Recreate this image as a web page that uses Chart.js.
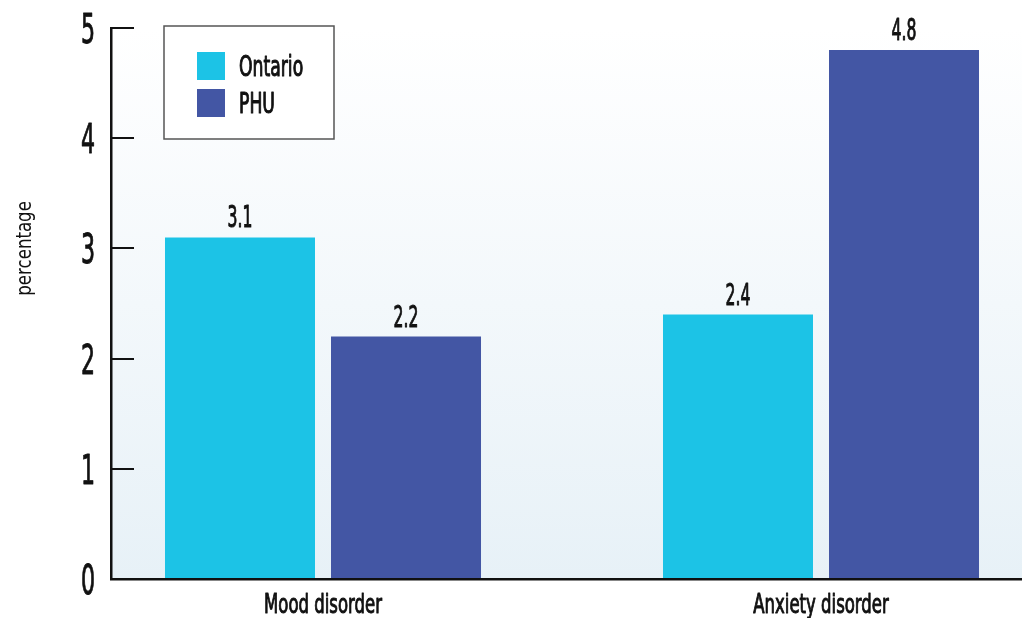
<!DOCTYPE html>
<html>
<head>
<meta charset="utf-8">
<script src="https://cdn.jsdelivr.net/npm/chart.js@4"></script>
<style>
  html, body { margin: 0; padding: 0; background: #ffffff; overflow: hidden; }
  #wrap { width: 1022px; height: 618px; position: relative; }
</style>
</head>
<body>
<div id="wrap"><canvas id="c" width="1022" height="618"></canvas></div>
<script>
// ---- data ----
const categories = ['Mood disorder', 'Anxiety disorder'];
const seriesNames = ['Ontario', 'PHU'];
const ontarioValues = [3.1, 2.4];
const phuValues = [2.2, 4.8];
const yTicks = [0, 1, 2, 3, 4, 5];
const yTitle = 'percentage';

const FONT = "'DejaVu Sans Condensed', 'DejaVu Sans', sans-serif";
const colors = ['#1cc3e6', '#4356a4'];
const INK = '#111111';

// draw horizontally condensed text, slightly emboldened
function condText(ctx, text, x, y, size, sx, align, baseline, stroke) {
  ctx.save();
  ctx.font = size + 'px ' + FONT;
  ctx.fillStyle = INK;
  ctx.strokeStyle = INK;
  ctx.textAlign = align;
  ctx.textBaseline = baseline;
  ctx.translate(x, y);
  ctx.scale(sx, 1);
  ctx.fillText(text, 0, 0);
  if (stroke) { ctx.lineWidth = stroke; ctx.lineJoin = 'round'; ctx.strokeText(text, 0, 0); }
  ctx.restore();
}

const bgPlugin = {
  id: 'bgGradient',
  beforeDraw(chart) {
    const { ctx, chartArea: a } = chart;
    const g = ctx.createLinearGradient(0, a.top, 0, a.bottom);
    g.addColorStop(0, '#ffffff');
    g.addColorStop(1, '#e7f1f7');
    ctx.save();
    ctx.fillStyle = g;
    ctx.fillRect(a.left, a.top, a.right - a.left, a.bottom - a.top);
    ctx.restore();
  }
};

const axisLabelPlugin = {
  id: 'axisLabels',
  afterDraw(chart) {
    const ctx = chart.ctx;
    const xs = chart.scales.x, ys = chart.scales.y;
    ys.ticks.forEach(t => {
      condText(ctx, String(t.value), ys.right - 16, ys.getPixelForValue(t.value) + 15, 41, 0.6, 'right', 'alphabetic', 0.9);
    });
    xs.ticks.forEach(t => {
      condText(ctx, categories[t.value], xs.getPixelForValue(t.value), xs.top + 34, 27, 0.68, 'center', 'alphabetic', 1.0);
    });
    const a = chart.chartArea;
    ctx.save();
    ctx.translate(26, a.top + (a.bottom - a.top) * 0.4);
    ctx.rotate(-Math.PI / 2);
    condText(ctx, yTitle, 0, 0, 21, 0.88, 'center', 'middle', 0);
    ctx.restore();
  }
};

const valuePlugin = {
  id: 'valueLabels',
  afterDatasetsDraw(chart) {
    const ctx = chart.ctx;
    chart.data.datasets.forEach((ds, di) => {
      const meta = chart.getDatasetMeta(di);
      meta.data.forEach((bar, i) => {
        condText(ctx, ds.data[i].y.toFixed(1), bar.x, bar.y - 10, 30, 0.58, 'center', 'alphabetic', 1.0);
      });
    });
  }
};

const legendPlugin = {
  id: 'boxLegend',
  afterDraw(chart) {
    const ctx = chart.ctx;
    ctx.save();
    ctx.fillStyle = '#ffffff';
    ctx.fillRect(164, 26, 170, 113);
    ctx.strokeStyle = '#555555';
    ctx.lineWidth = 1.5;
    ctx.strokeRect(164, 26, 170, 113);
    ctx.restore();
    chart.data.datasets.forEach((ds, i) => {
      const y = 52 + i * 37;
      ctx.save();
      ctx.fillStyle = ds.backgroundColor;
      ctx.fillRect(197, y, 28, 28);
      ctx.restore();
      condText(ctx, ds.label, 239, y + 24, 29, 0.66, 'left', 'alphabetic', 1.1);
    });
  }
};

new Chart(document.getElementById('c'), {
  type: 'bar',
  data: {
    datasets: [
      { label: seriesNames[0], data: ontarioValues.map((v, i) => ({ x: i, y: v })), backgroundColor: colors[0] },
      { label: seriesNames[1], data: phuValues.map((v, i) => ({ x: i, y: v })), backgroundColor: colors[1] }
    ]
  },
  options: {
    responsive: false,
    animation: false,
    devicePixelRatio: 1,
    layout: { padding: { top: 28, left: 0, right: 0, bottom: 0 } },
    datasets: { bar: { categoryPercentage: 0.6667, barPercentage: 0.9036 } },
    plugins: { legend: { display: false }, tooltip: { enabled: false } },
    scales: {
      x: {
        type: 'linear',
        offset: false,
        min: -0.4257,
        max: 1.4036,
        afterBuildTicks(scale) { scale.ticks = categories.map((c, i) => ({ value: i })); },
        afterFit(scale) { scale.height = 39; scale.paddingLeft = 0; scale.paddingRight = 0; },
        grid: { display: false, drawTicks: false, offset: false },
        border: { display: true, color: INK, width: 2.5 },
        ticks: { display: false }
      },
      y: {
        min: 0,
        max: 5,
        afterBuildTicks(scale) { scale.ticks = yTicks.map(v => ({ value: v })); },
        afterFit(scale) { scale.width = 111; scale.paddingTop = 0; scale.paddingBottom = 0; },
        grid: { drawOnChartArea: false, drawTicks: true, tickLength: -23, color: INK, lineWidth: 2 },
        border: { display: true, color: INK, width: 2.5 },
        ticks: { display: false }
      }
    }
  },
  plugins: [bgPlugin, valuePlugin, axisLabelPlugin, legendPlugin]
});
</script>
</body>
</html>
